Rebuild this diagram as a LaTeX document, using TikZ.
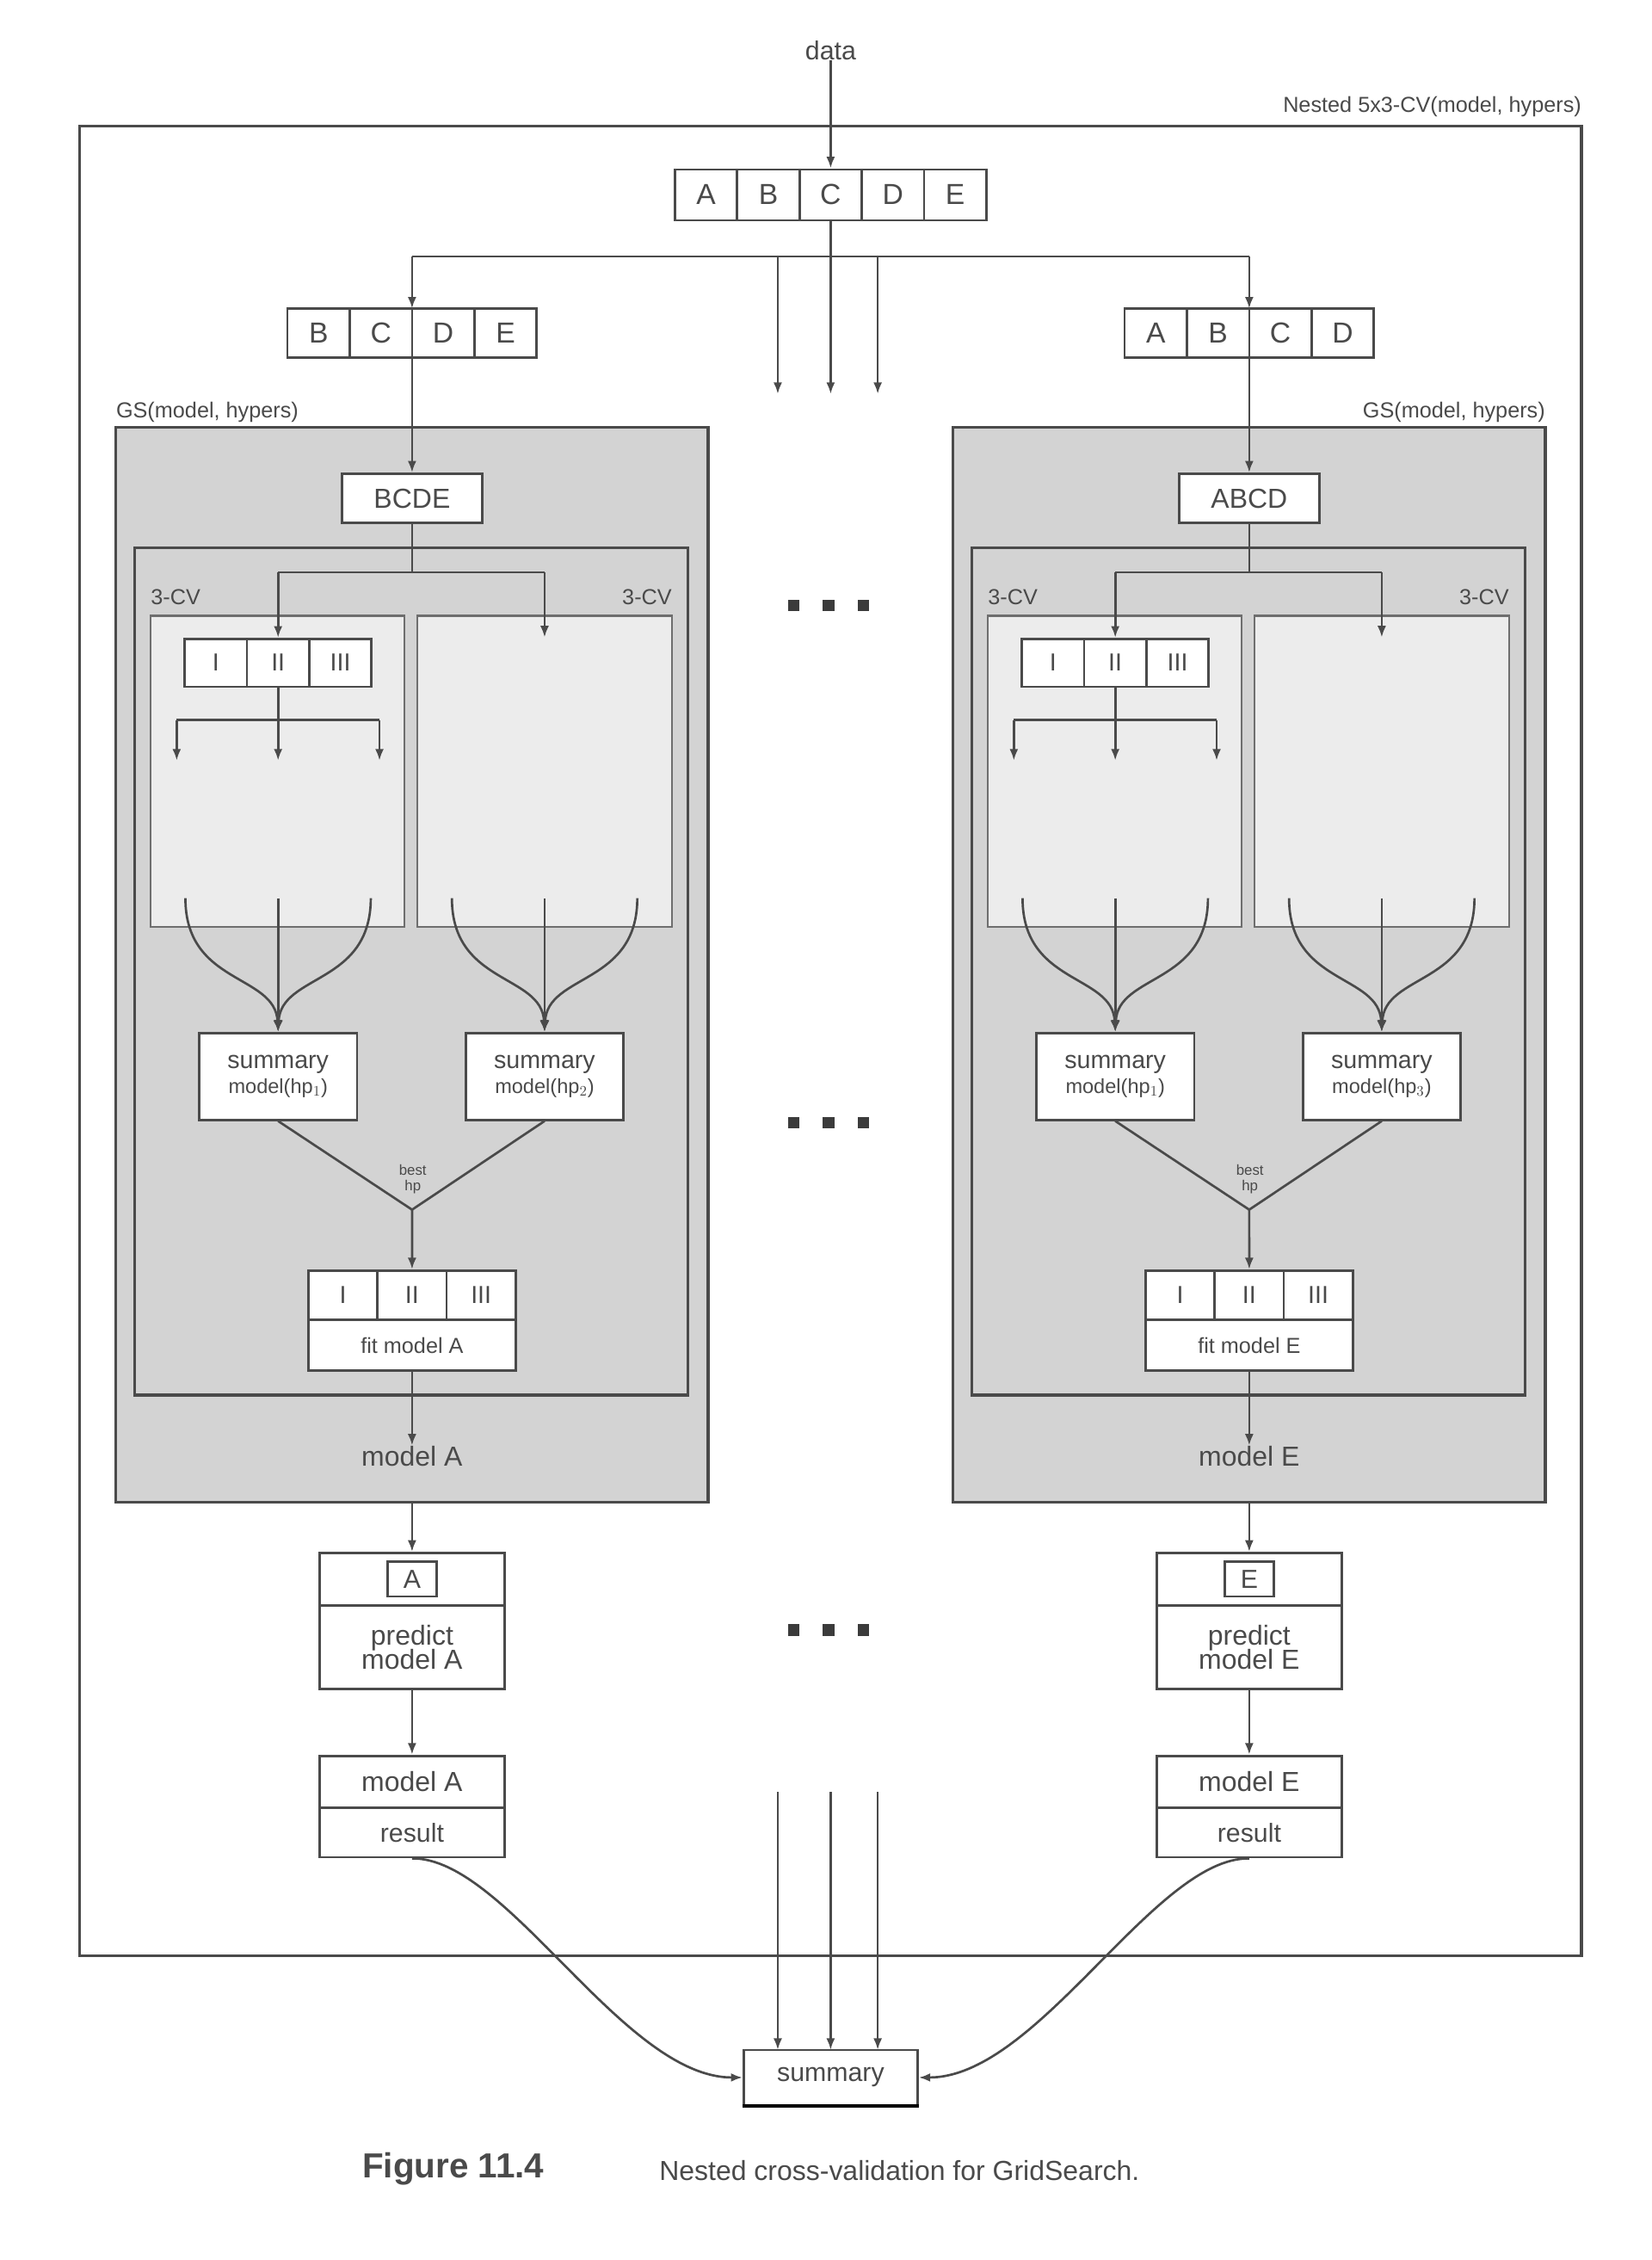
\documentclass[tikz,border=0pt]{standalone}
\usepackage{fontspec}
\setmainfont{Liberation Sans}
\usetikzlibrary{arrows.meta}
\definecolor{ink}{HTML}{4A4A4A}
\definecolor{gsgrey}{HTML}{D3D3D3}
\definecolor{lightp}{HTML}{ECECEC}
\tikzset{
 ln/.style={draw=ink,line width=1.6pt},
 arr/.style={ln,-{Latex[length=8pt,width=6pt]}},
 cell/.style={draw=ink,line width=1.6pt,fill=white,inner sep=0pt,text=ink,font=\fontsize{20}{20}\selectfont},
 lbl/.style={inner sep=0pt,text=ink},
}
\newcommand\gscol[4]{%
 % #1 suffix, #2 cell list, #3 train label, #4 hp index
 \foreach \l [count=\i] in {#2}{\node[cell,minimum width=43pt,minimum height=34pt] (c#1\i) at (198.5+43*\i-21.5,230) {\l};}
 \coordinate (cellstop#1) at (284.5,213);
 \coordinate (cellsbot#1) at (284.5,247);
 \draw[arr] (split#1) -- (cellstop#1);
 \fill[gsgrey] (80,295) rectangle (489,1037);
 \draw[ln,line width=2pt] (80,295) rectangle (489,1037);
 \draw[ln,line width=2pt] (93,378) rectangle (475,963);
 \draw[draw=ink!80,line width=1.3pt,fill=lightp] (104,425) rectangle (279,640);
 \draw[draw=ink!80,line width=1.3pt,fill=lightp] (288,425) rectangle (464,640);
 \node[lbl,anchor=west,font=\fontsize{15}{15}\selectfont] (cvl#1) at (104,412) {3-CV};
 \node[lbl,anchor=east,font=\fontsize{15}{15}\selectfont] (cvr#1) at (464,412) {3-CV};
 \node[cell,minimum width=97pt,minimum height=34pt] (train#1) at (284.5,344) {\fontsize{19}{19}\selectfont #3};
 \draw[arr] (cellsbot#1) -- (train#1.north);
 \coordinate (fk#1) at (284.5,395);
 \coordinate (fkl#1) at (192,395);
 \coordinate (fkr#1) at (376,395);
 \coordinate (pr#1) at (376,440);
 \draw[ln] (train#1.south) -- (fk#1);
 \draw[ln] (fkl#1) -- (fkr#1);
 \foreach \r [count=\i] in {I,II,III}{\node[cell,minimum width=43pt,minimum height=33pt,font=\fontsize{17}{17}\selectfont] (f#1\i) at (127.5+43*\i-21.5,457.5) {\r};}
 \draw[arr] (fkl#1) -- (f#12.north);
 \draw[arr] (fkr#1) -- (pr#1);
 \coordinate (sp#1) at (192,497);
 \coordinate (spl#1) at (122,497);
 \coordinate (spr#1) at (262,497);
 \draw[ln] (f#12.south) -- (sp#1);
 \draw[ln] (spl#1) -- (spr#1);
 \foreach \x [count=\i] in {122,192,262}{\coordinate (sa#1\i) at (\x,525); \coordinate (st#1\i) at (\x,497); \draw[arr] (st#1\i) -- (sa#1\i);}
 \node[cell,minimum width=109pt,minimum height=60pt,align=center,font=\fontsize{17}{19}\selectfont] (s#1a) at (192,743) {summary\\[-2pt]{\fontsize{14}{14}\selectfont model(hp$_1$)}};
 \node[cell,minimum width=109pt,minimum height=60pt,align=center,font=\fontsize{17}{19}\selectfont] (s#1b) at (376,743) {summary\\[-2pt]{\fontsize{14}{14}\selectfont model(hp$_{#4}$)}};
 \foreach \cx/\nm in {128/a,312/b}{%
  \coordinate (ca#1\nm) at (\cx,620);
  \coordinate (cb#1\nm) at (\cx+64,620);
  \coordinate (cc#1\nm) at (\cx+128,620);
  \draw[arr] (ca#1\nm) .. controls (\cx,680) and (\cx+62,672) .. (s#1\nm.north);
  \draw[arr] (cb#1\nm) -- (s#1\nm.north);
  \draw[arr] (cc#1\nm) .. controls (\cx+128,680) and (\cx+66,672) .. (s#1\nm.north);
 }
 \coordinate (bh#1) at (284.5,835);
 \draw[ln] (s#1a.south) -- (bh#1) -- (s#1b.south);
 \node[lbl,align=center,font=\fontsize{10}{11}\selectfont] (bhl#1) at (285,814) {best\\hp};
 \foreach \r [count=\i] in {I,II,III}{\node[cell,minimum width=47.67pt,minimum height=34pt,font=\fontsize{17}{17}\selectfont] (g#1\i) at (213+47.67*\i-23.83,894) {\r};}
 \node[cell,minimum width=143pt,minimum height=35pt,font=\fontsize{15}{15}\selectfont] (fit#1) at (284.5,928.5) {fit model #1};
 \draw[arr] (bh#1) -- (g#12.north);
 \node[lbl,font=\fontsize{19}{19}\selectfont] (ml#1) at (284.5,1005) {model #1};
 \draw[arr] (fit#1.south) -- (ml#1.north);
 \coordinate (gb#1) at (284.5,1037);
 \node[cell,minimum width=128pt,minimum height=36pt] (pt#1) at (284.5,1090) {};
 \node[cell,minimum width=34pt,minimum height=24pt,font=\fontsize{18}{18}\selectfont] (pl#1) at (284.5,1090) {#1};
 \node[cell,minimum width=128pt,minimum height=58pt,align=center,font=\fontsize{19}{19}\selectfont] (pm#1) at (284.5,1137) {predict\\[-2pt]model #1};
 \draw[arr] (gb#1) -- (pt#1.north);
 \node[cell,minimum width=128pt,minimum height=36pt,font=\fontsize{19}{19}\selectfont] (rm#1) at (284.5,1230) {model #1};
 \node[cell,minimum width=128pt,minimum height=34pt,font=\fontsize{18}{18}\selectfont] (rr#1) at (284.5,1265) {result};
 \draw[arr] (pm#1.south) -- (rm#1.north);
}
\begin{document}
\begin{tikzpicture}[x=1pt,y=-1pt]
\useasboundingbox[fill=white] (0,0) rectangle (1140,1560);
\node[lbl,font=\fontsize{18}{18}\selectfont] (data) at (573.5,35) {data};
\draw[ln,line width=2.2pt] (55,87) rectangle (1092,1350);
\node[lbl,anchor=south east,font=\fontsize{15}{15}\selectfont] (nested) at (1092,81) {Nested 5x3-CV(model, hypers)};
\foreach \l [count=\i] in {A,B,C,D,E}{\node[cell,minimum width=43pt,minimum height=35pt] (t\i) at (444.5+43*\i,134.5) {\l};}
\draw[arr] (data.south) -- (t3.north);
\coordinate (hm) at (573.5,177);
\coordinate (splitA) at (284.5,177);
\coordinate (splitE) at (862.5,177);
\draw[ln] (t3.south) -- (hm);
\draw[ln] (splitA) -- (splitE);
\foreach \x [count=\i] in {537,573.5,606}{\coordinate (ms\i) at (\x,177); \coordinate (me\i) at (\x,272); \draw[arr] (ms\i) -- (me\i);}
\begin{scope}
\gscol{A}{B,C,D,E}{BCDE}{2}
\end{scope}
\begin{scope}[xshift=578pt]
\gscol{E}{A,B,C,D}{ABCD}{3}
\end{scope}
\node[lbl,anchor=south west,font=\fontsize{15}{15}\selectfont] (gsl) at (80,292) {GS(model, hypers)};
\node[lbl,anchor=south east,font=\fontsize{15}{15}\selectfont] (gsr) at (1067,292) {GS(model, hypers)};
\foreach \y in {418,775,1125}{\foreach \x in {548,572,596}{\fill[ink!80!black] (\x-4,\y-4) rectangle (\x+4,\y+4);}}
\node[cell,minimum width=120pt,minimum height=38pt,font=\fontsize{18}{18}\selectfont] (sum) at (573.5,1434) {summary};
\draw[line width=2.5pt,black] (sum.south west) -- (sum.south east);
\foreach \x [count=\i] in {537,573.5,606}{\coordinate (bs\i) at (\x,1237); \coordinate (be\i) at (\x,1415); \draw[arr] (bs\i) -- (be\i);}
\draw[arr] (rrA.south) .. controls (350,1282) and (430,1434) .. (sum.west);
\draw[arr] (rrE.south) .. controls (797,1282) and (717,1434) .. (sum.east);
\node[lbl,anchor=west,font=\bfseries\fontsize{24}{24}\selectfont] (fig) at (250,1497) {Figure 11.4};
\node[lbl,anchor=west,font=\fontsize{19}{19}\selectfont] (cap) at (455,1498) {Nested cross-validation for GridSearch.};
\end{tikzpicture}
\end{document}
